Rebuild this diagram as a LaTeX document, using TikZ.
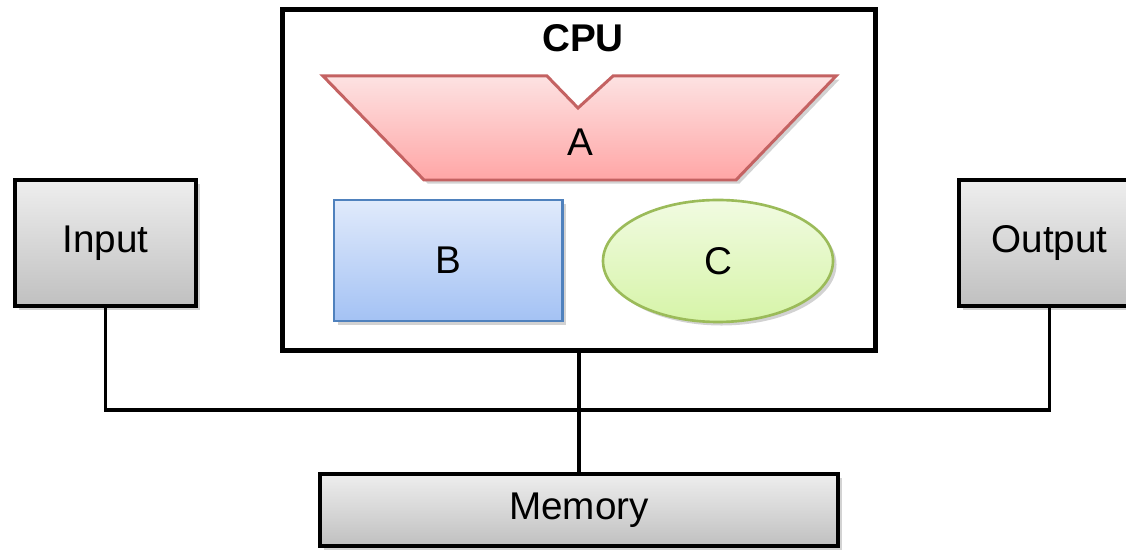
\documentclass[tikz,border=0pt]{standalone}
\usepackage{fontspec}
\setmainfont{Liberation Sans}
\usetikzlibrary{shapes.geometric,shadows}

\definecolor{redline}{RGB}{196,98,98}
\definecolor{redtop}{RGB}{253,226,226}
\definecolor{redbot}{RGB}{255,166,166}
\definecolor{blueline}{RGB}{79,129,189}
\definecolor{bluetop}{RGB}{224,234,251}
\definecolor{bluebot}{RGB}{164,194,244}
\definecolor{greenline}{RGB}{155,187,89}
\definecolor{greentop}{RGB}{241,251,225}
\definecolor{greenbot}{RGB}{214,244,168}
\definecolor{graytop}{RGB}{238,238,238}
\definecolor{graybot}{RGB}{192,192,192}

\begin{document}
\begin{tikzpicture}

% definitions
\tikzstyle{unit} = [rectangle, inner sep=0pt, minimum width=3.62cm, minimum height=2.52cm, text centered, draw=black, line width=2.2pt, top color=graytop, bottom color=graybot, drop shadow={opacity=0.35, shadow xshift=2pt, shadow yshift=-2pt}, font=\fontsize{22}{26}\selectfont]

\tikzstyle{cpubox} = [rectangle, inner sep=0pt, minimum width=11.86cm, minimum height=6.82cm, draw=black, line width=2.8pt, fill=white]

\tikzstyle{regbox} = [rectangle, inner sep=0pt, minimum width=4.56cm, minimum height=2.42cm, draw=blueline, line width=1.7pt, top color=bluetop, bottom color=bluebot, drop shadow={opacity=0.35, shadow xshift=2pt, shadow yshift=-2pt}, font=\fontsize{22}{26}\selectfont]

\tikzstyle{ctrl} = [ellipse, inner sep=0pt, minimum width=4.6cm, minimum height=2.44cm, draw=greenline, line width=1.5pt, top color=greentop, bottom color=greenbot, drop shadow={opacity=0.35, shadow xshift=2pt, shadow yshift=-2pt}, font=\fontsize{22}{26}\selectfont]

\tikzstyle{alu} = [draw=redline, line width=1.7pt, line join=miter, top color=redtop, bottom color=redbot, drop shadow={opacity=0.35, shadow xshift=2pt, shadow yshift=-2pt}]

\tikzstyle{wire} = [draw=black, line width=2pt]

\useasboundingbox (0,0) rectangle (22.52,11);

% the graph
\node (cpu) [cpubox] at (11.58,7.4) {};
\node (cputitle) at (11.66,10.24) {\fontsize{22}{26}\selectfont\bfseries CPU};

\draw [alu] (6.46,9.48) -- (10.94,9.48) -- (11.56,8.84) -- (12.26,9.48) -- (16.72,9.48) -- (14.72,7.4) -- (8.48,7.4) -- cycle;
\node (a) at (11.6,8.16) {\fontsize{22}{26}\selectfont A};

\node (b) [regbox] at (8.96,5.79) {B};
\node (c) [ctrl] at (14.36,5.78) {C};

\node (in) [unit] at (2.11,6.14) {Input};
\node (out) [unit] at (20.99,6.14) {Output};
\node (mem) [unit, minimum width=10.36cm, minimum height=1.44cm] at (11.58,0.8) {Memory};

\coordinate (bus) at (11.52,2.8);

\draw [wire] (in.south) |- (bus) -| (out.south);
\draw [wire] (cpu.south) -- (mem.north);

\end{tikzpicture}
\end{document}
